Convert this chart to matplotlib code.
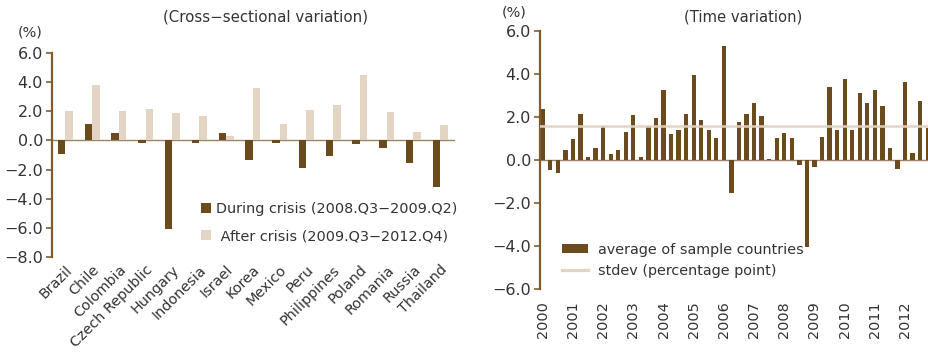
import matplotlib
matplotlib.use("Agg")
import matplotlib.pyplot as plt
import matplotlib.transforms as mtransforms
from matplotlib.patches import Patch
from matplotlib.lines import Line2D
import numpy as np

plt.rcParams['font.family'] = ['DejaVu Sans']

# ---------------- data ----------------
countries = ["Brazil", "Chile", "Colombia", "Czech Republic", "Hungary", "Indonesia",
             "Israel", "Korea", "Mexico", "Peru", "Philippines", "Poland",
             "Romania", "Russia", "Thailand"]
during_crisis = [-0.95, 1.13, 0.52, -0.16, -6.08, -0.16, 0.52, -1.31, -0.16, -1.86,
                 -1.04, -0.23, -0.50, -1.52, -3.22]
after_crisis = [2.01, 3.78, 2.01, 2.15, 1.88, 1.67, 0.32, 3.57, 1.13, 2.08,
                2.42, 4.46, 1.95, 0.59, 1.06]

years = [str(y) for y in range(2000, 2013)]
quarterly_avg = [2.36, -0.45, -0.60, 0.46, 0.97, 2.13, 0.15, 0.56, 1.55, 0.28,
                 0.46, 1.30, 2.09, 0.14, 1.55, 1.95, 3.25, 1.20, 1.39, 2.13,
                 3.94, 1.85, 1.39, 1.02, 5.29, -1.52, 1.76, 2.13, 2.63, 2.04,
                 0.05, 1.02, 1.25, 1.02, -0.26, -4.07, -0.31, 1.07, 3.38, 1.39,
                 3.76, 1.39, 3.10, 2.64, 3.25, 2.50, 0.56, -0.42, 3.62, 0.32,
                 2.74, 1.48]
stdev_value = 1.58

# ---------------- style ----------------
DARK = "#6B4A1E"
LIGHT = "#E3D4C3"
AXIS = "#7D5C2E"
ZERO = "#9C8466"
TEXT = "#333333"
FS = 10.4

W, H = 929, 357
fig = plt.figure(figsize=(W / 100, H / 100), dpi=100)


def px_axes(x0, x1, ytop, ybot):
    return fig.add_axes([x0 / W, 1 - ybot / H, (x1 - x0) / W, (ybot - ytop) / H])


def fmt(v):
    s = f"{abs(v):.1f}"
    return ("\u2212" + s) if v < 0 else s


def style_axes(ax, yticks):
    for s in ["top", "right", "bottom"]:
        ax.spines[s].set_visible(False)
    ax.spines["left"].set_color(AXIS)
    ax.spines["left"].set_linewidth(1.6)
    ax.set_yticks(yticks)
    ax.set_yticklabels([fmt(v) for v in yticks], fontsize=11.5, color=TEXT)
    ax.tick_params(axis="y", direction="out", length=4.5, width=1.2, color=AXIS, pad=2)
    ax.axhline(0, color=ZERO, lw=1.0, zorder=1)
    ax.patch.set_alpha(0)


# ---------------- left chart ----------------
ax1 = px_axes(52, 455, 53, 257)
x = np.arange(len(countries))
bw = 0.28
ax1.bar(x - bw / 2, during_crisis, width=bw, color=DARK, zorder=2)
ax1.bar(x + bw / 2, after_crisis, width=bw, color=LIGHT, zorder=2)
ax1.set_xlim(-0.5, len(countries) - 0.45)
ax1.set_ylim(-8, 6)
style_axes(ax1, np.arange(-8, 6.1, 2))
ax1.set_xticks(x)
offset = mtransforms.ScaledTranslation(12 / 100, 0, fig.dpi_scale_trans)
ax1.set_xticklabels(countries, rotation=45, ha="right", va="top",
                    rotation_mode="anchor", fontsize=FS, color=TEXT)
for lab in ax1.get_xticklabels():
    lab.set_transform(lab.get_transform() + offset)
ax1.tick_params(axis="x", length=0, pad=4)

fig.text(266 / W, 1 - 17 / H, "(Cross\u2212sectional variation)", ha="center", va="center",
         fontsize=10.8, color=TEXT)
fig.text(30 / W, 1 - 33 / H, "(%)", ha="center", va="center", fontsize=FS, color=TEXT)

h1 = [Patch(facecolor=DARK, edgecolor="none"), Patch(facecolor=LIGHT, edgecolor="none")]
ax1.legend(h1, ["During crisis (2008.Q3\u22122009.Q2)", " After crisis (2009.Q3\u22122012.Q4)"],
           loc="upper left", bbox_to_anchor=(201 / W, 1 - 202 / H),
           bbox_transform=fig.transFigure, frameon=False, fontsize=FS,
           handlelength=0.7, handleheight=0.7, handletextpad=0.35,
           labelspacing=0.9, borderpad=0, borderaxespad=0, labelcolor=TEXT)

# ---------------- right chart ----------------
ax2 = px_axes(540, 929, 30.7, 289)
xq = np.arange(len(quarterly_avg))
ax2.bar(xq, quarterly_avg, width=0.57, color=DARK, zorder=2)
ax2.axhline(stdev_value, color=LIGHT, lw=1.9, alpha=0.92, zorder=3)
ax2.set_xlim(-0.36, 51.17)
ax2.set_ylim(-6, 6)
style_axes(ax2, np.arange(-6, 6.1, 2))
ax2.set_xticks(np.arange(0, len(quarterly_avg), 4))
ax2.set_xticklabels(years, rotation=90, ha="center", va="top", fontsize=FS, color=TEXT)
ax2.tick_params(axis="x", length=0, pad=9)

fig.text(743 / W, 1 - 17 / H, "(Time variation)", ha="center", va="center",
         fontsize=10.6, color=TEXT)
fig.text(514 / W, 1 - 13 / H, "(%)", ha="center", va="center", fontsize=FS, color=TEXT)

h2 = [Patch(facecolor=DARK, edgecolor="none"), Line2D([], [], color=LIGHT, lw=2.3)]
ax2.legend(h2, ["average of sample countries", "stdev (percentage point)"],
           loc="upper left", bbox_to_anchor=(562 / W, 1 - 243 / H),
           bbox_transform=fig.transFigure, frameon=False, fontsize=FS,
           handlelength=1.8, handleheight=0.6, handletextpad=0.7,
           labelspacing=0.45, borderpad=0, borderaxespad=0, labelcolor=TEXT)

fig.savefig("out.png", dpi=100)
